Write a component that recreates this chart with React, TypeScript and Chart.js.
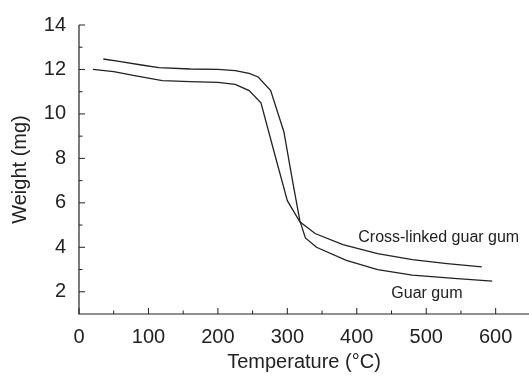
import React, { useEffect, useRef } from "react";
import { Chart, registerables } from "chart.js";

Chart.register(...registerables);

// Data (temperature °C, weight mg)
const crossTemp = [20, 50, 80, 120, 160, 200, 225, 245, 262, 280, 300, 318, 340, 380, 430, 480, 530, 580];
const crossWeight = [12.0, 11.9, 11.72, 11.5, 11.45, 11.42, 11.33, 11.05, 10.5, 8.4, 6.1, 5.15, 4.62, 4.12, 3.72, 3.45, 3.27, 3.12];
const guarTemp = [35, 60, 90, 115, 160, 200, 225, 245, 258, 276, 295, 308, 318, 326, 342, 385, 430, 480, 540, 595];
const guarWeight = [12.47, 12.35, 12.2, 12.08, 12.02, 12.0, 11.95, 11.82, 11.66, 11.05, 9.2, 6.9, 5.2, 4.42, 4.0, 3.41, 3.0, 2.75, 2.6, 2.48];

const xTicks = [0, 100, 200, 300, 400, 500, 600];
const xMinorTicks = [50, 150, 250, 350, 450, 550];
const yTicks = [2, 4, 6, 8, 10, 12, 14];
const yMinorTicks = [3, 5, 7, 9, 11, 13];

const labelTexts = ["Cross-linked guar gum", "Guar gum"];
const labelTemp = [518, 501];
const labelWeight = [4.43, 1.92];

const FONT = "'Liberation Sans', Arial, Helvetica, sans-serif";
const INK = "#222222";

const axesPlugin = {
  id: "customAxes",
  afterDraw(chart: any) {
    const { ctx, chartArea, scales } = chart;
    const { left, right, top, bottom } = chartArea;
    const x = scales.x;
    const y = scales.y;
    ctx.save();
    ctx.strokeStyle = INK;
    ctx.lineWidth = 1.2;
    ctx.beginPath();
    ctx.moveTo(left, top);
    ctx.lineTo(left, bottom);
    ctx.lineTo(right, bottom);
    ctx.stroke();
    ctx.lineWidth = 1;
    ctx.beginPath();
    yTicks.forEach((v) => {
      const py = y.getPixelForValue(v);
      ctx.moveTo(left, py);
      ctx.lineTo(left + 6, py);
    });
    yMinorTicks.forEach((v) => {
      const py = y.getPixelForValue(v);
      ctx.moveTo(left, py);
      ctx.lineTo(left + 3.5, py);
    });
    xTicks.forEach((v) => {
      const px = x.getPixelForValue(v);
      ctx.moveTo(px, bottom);
      ctx.lineTo(px, bottom - 6);
    });
    xMinorTicks.forEach((v) => {
      const px = x.getPixelForValue(v);
      ctx.moveTo(px, bottom);
      ctx.lineTo(px, bottom - 3.5);
    });
    ctx.stroke();

    ctx.fillStyle = INK;
    ctx.font = `16px ${FONT}`;
    ctx.textAlign = "center";
    ctx.textBaseline = "middle";
    labelTexts.forEach((t, i) => {
      ctx.fillText(t, x.getPixelForValue(labelTemp[i]), y.getPixelForValue(labelWeight[i]));
    });
    ctx.restore();
  },
};

export default function App() {
  const ref = useRef<HTMLCanvasElement | null>(null);

  useEffect(() => {
    document.body.style.margin = "0";
    if (!ref.current) return;
    const chart = new Chart(ref.current, {
      type: "line",
      data: {
        datasets: [
          {
            label: "Cross-linked guar gum",
            data: crossTemp.map((t, i) => ({ x: t, y: crossWeight[i] })),
            borderColor: INK,
            borderWidth: 1.3,
            pointRadius: 0,
            tension: 0,
            fill: false,
          },
          {
            label: "Guar gum",
            data: guarTemp.map((t, i) => ({ x: t, y: guarWeight[i] })),
            borderColor: INK,
            borderWidth: 1.3,
            pointRadius: 0,
            tension: 0,
            fill: false,
          },
        ],
      },
      options: {
        animation: false,
        responsive: false,
        maintainAspectRatio: false,
        layout: { padding: { top: 22, right: 0, left: 0, bottom: 0 } },
        plugins: {
          legend: { display: false },
          tooltip: { enabled: false },
        },
        scales: {
          x: {
            type: "linear",
            min: 0,
            max: 648,
            afterBuildTicks: (s: any) => {
              s.ticks = xTicks.map((v) => ({ value: v }));
            },
            afterFit: (s: any) => {
              s.height = 64;
            },
            grid: { display: false, drawTicks: false },
            border: { display: false },
            ticks: {
              color: INK,
              font: { family: FONT, size: 20 },
              padding: 11,
              maxRotation: 0,
              autoSkip: false,
            },
            title: {
              display: true,
              text: "Temperature (°C)",
              color: INK,
              font: { family: FONT, size: 20 },
              padding: { top: 0, bottom: 4 },
            },
          },
          y: {
            type: "linear",
            min: 1,
            max: 14,
            afterBuildTicks: (s: any) => {
              s.ticks = yTicks.map((v) => ({ value: v }));
            },
            afterFit: (s: any) => {
              s.width = 79;
            },
            grid: { display: false, drawTicks: false },
            border: { display: false },
            ticks: {
              color: INK,
              font: { family: FONT, size: 20 },
              padding: 13,
              autoSkip: false,
            },
            title: {
              display: true,
              text: "Weight (mg)",
              color: INK,
              font: { family: FONT, size: 20 },
              padding: { top: 8, bottom: 0 },
            },
          },
        },
      },
      plugins: [axesPlugin],
    });
    return () => chart.destroy();
  }, []);

  return (
    <div style={{ position: "fixed", left: 0, top: 0, width: 529, height: 378, background: "#fff" }}>
      <canvas ref={ref} width={529} height={378} style={{ display: "block", width: 529, height: 378 }} />
    </div>
  );
}
